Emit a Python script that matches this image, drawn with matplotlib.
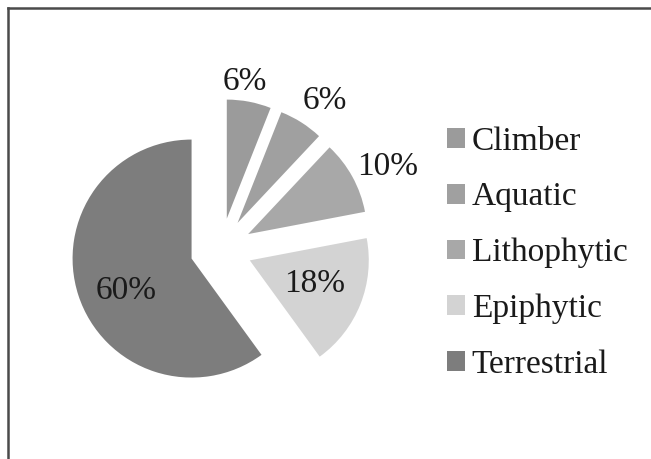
#!/usr/bin/env python3
"""Habit distribution pie, exploded, grayscale."""

import matplotlib
matplotlib.use("Agg")
import matplotlib.pyplot as plt
import numpy as np
from matplotlib.lines import Line2D
from matplotlib.patches import Patch

habits = ["Climber", "Aquatic", "Lithophytic", "Epiphytic", "Terrestrial"]
shares = [6, 6, 10, 18, 60]
colors = ["#9b9b9b", "#a0a0a0", "#a8a8a8", "#d3d3d3", "#7d7d7d"]
# label placement from slice tip: distance (fraction of radius), clockwise angle nudge (deg)
label_dist = [1.16, 1.26, 1.30, 0.58, 0.61]
label_turn = [-3.2, 3.2, 2.8, -2.1, -8.0]

W, H = 651, 459
FONT = "Liberation Serif"
FS = 24


def main() -> None:
    fig = plt.figure(figsize=(W / 100, H / 100), dpi=100)
    fig.patch.set_facecolor("white")

    # pie centre ~ (221, 249) px, radius ~119 px
    L = 1.5
    side = 2 * L * 119
    cx, cy = 221, H - 249
    ax = fig.add_axes([(cx - side / 2) / W, (cy - side / 2) / H, side / W, side / H])
    wedges, _, autotexts = ax.pie(
        shares,
        colors=colors,
        startangle=90,
        counterclock=False,
        explode=[0.26] * len(shares),
        autopct=lambda p: f"{p:.0f}%",
        textprops={"family": FONT, "fontsize": FS, "color": "#1a1a1a"},
        wedgeprops={"linewidth": 0},
    )
    for w, t, d, turn in zip(wedges, autotexts, label_dist, label_turn):
        x0, y0 = w.center
        mid = np.deg2rad((w.theta1 + w.theta2) / 2)
        ang = np.deg2rad((w.theta1 + w.theta2) / 2 - turn)
        t.set_position((x0 + d * np.cos(ang), y0 + d * np.sin(ang)))
        t.set_ha("center")
        t.set_va("center")
    ax.set_xlim(-L, L)
    ax.set_ylim(-L, L)
    ax.set_aspect("auto")
    ax.axis("off")

    handles = [Patch(facecolor=c, edgecolor="none") for c in colors]
    fig.legend(
        handles,
        habits,
        loc="center left",
        bbox_to_anchor=(447 / W, 1 - 253 / H),
        frameon=False,
        borderpad=0,
        borderaxespad=0,
        handlelength=0.54,
        handleheight=0.54,
        handletextpad=0.2,
        labelspacing=0.76,
        prop={"family": FONT, "size": FS},
        labelcolor="#1a1a1a",
    )

    # chart-area border (left and top only visible in the crop)
    fig.add_artist(Line2D([8 / W, 8 / W], [0, 1 - 8 / H], color="#4a4a4a", lw=1.8))
    fig.add_artist(Line2D([8 / W, 1], [1 - 8 / H, 1 - 8 / H], color="#4a4a4a", lw=1.8))

    fig.savefig("out.png", dpi=100)
    plt.close(fig)


if __name__ == "__main__":
    main()
